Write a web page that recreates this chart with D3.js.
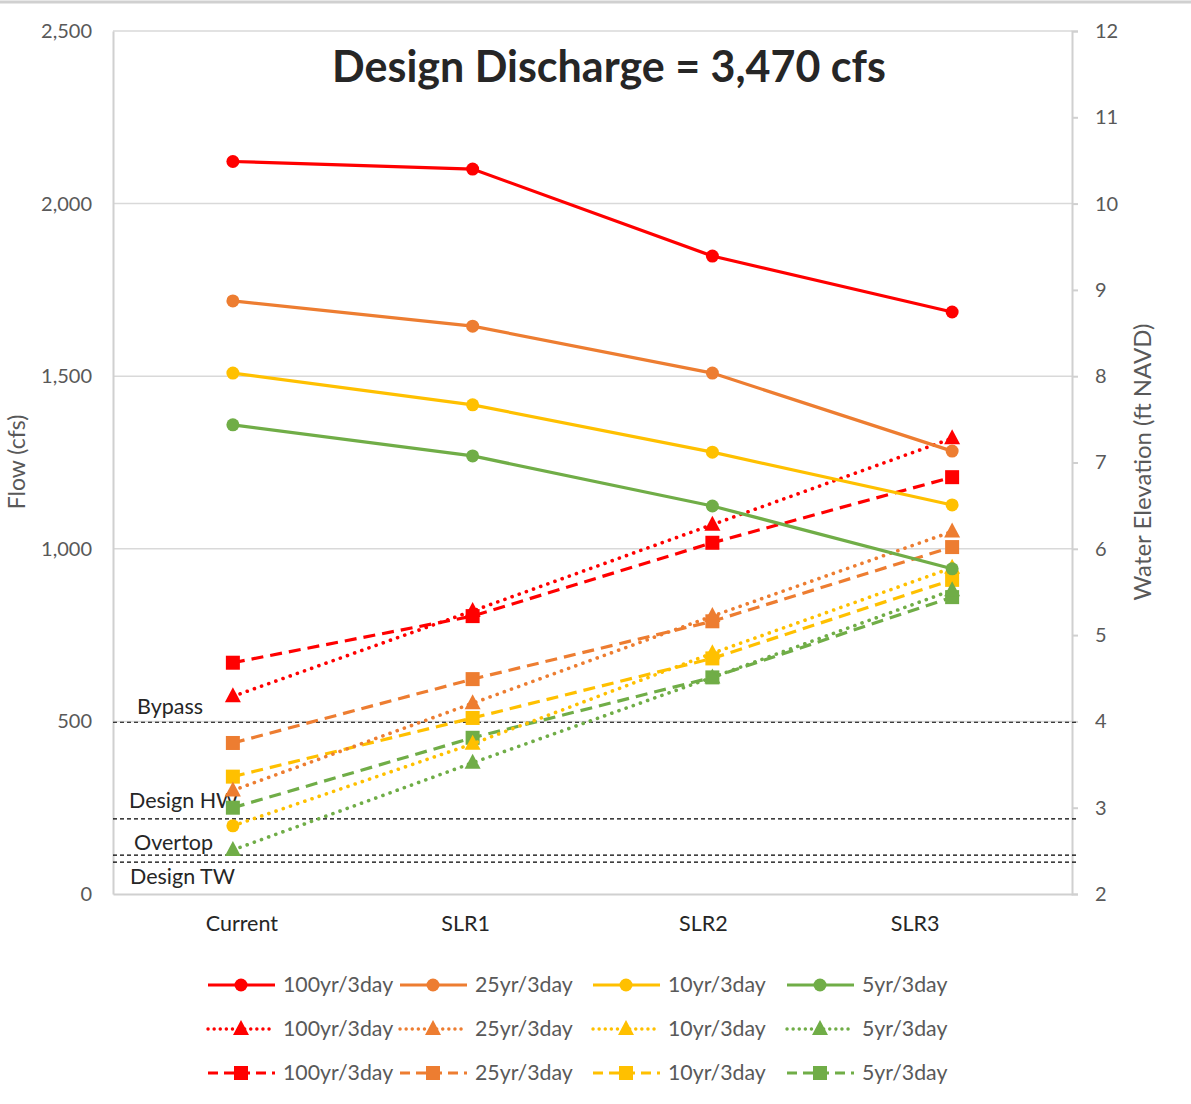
<!DOCTYPE html>
<html><head><meta charset="utf-8">
<script src="https://cdn.jsdelivr.net/npm/d3@7"></script>
<style>
body{margin:0;background:#fff;}
text{font-family:Lato,"Open Sans",sans-serif;}
</style></head>
<body>
<svg id="chart" width="1191" height="1104"></svg>
<script>
const categories = ["Current","SLR1","SLR2","SLR3"];
const seriesNames = ["100yr/3day","25yr/3day","10yr/3day","5yr/3day"];
// Flow (cfs), left axis — solid lines with circles
const flow100 = [2122, 2100, 1848, 1686];
const flow25  = [1718, 1645, 1509, 1283];
const flow10  = [1509, 1417, 1280, 1127];
const flow5   = [1359, 1269, 1124, 942];
// Water elevation (ft NAVD), right axis — dotted lines with triangles
const tri100 = [4.29, 5.28, 6.28, 7.28];
const tri25  = [3.20, 4.21, 5.22, 6.20];
const tri10  = [2.79, 3.74, 4.79, 5.78];
const tri5   = [2.51, 3.52, 4.51, 5.52];
// Water elevation (ft NAVD), right axis — dashed lines with squares
const sq100 = [4.68, 5.22, 6.07, 6.83];
const sq25  = [3.75, 4.49, 5.16, 6.02];
const sq10  = [3.36, 4.04, 4.73, 5.64];
const sq5   = [3.00, 3.81, 4.51, 5.44];
// Reference levels (right axis)
const refNames = ["Bypass","Design HW","Overtop","Design TW"];
const refValues = [3.99, 2.87, 2.45, 2.37];
const leftTicks = [0,500,1000,1500,2000,2500];
const rightTicks = [2,3,4,5,6,7,8,9,10,11,12];
const colors = ["#FF0000","#ED7D31","#FFC000","#70AD47"];

const svg = d3.select("#chart");
const M = {l:113, r:1072, t:31, b:894};

svg.append("line").attr("x1",0).attr("x2",1191).attr("y1",2).attr("y2",2).attr("stroke","#d0d0d0").attr("stroke-width",3);

const x = d3.scaleBand().domain(categories).range([M.l, M.r]);
const yL = d3.scaleLinear().domain([0,2500]).range([M.b, M.t]);
const yR = d3.scaleLinear().domain([2,12]).range([M.b, M.t]);
const cx = c => x(c) + x.bandwidth()/2;

// gridlines
svg.append("g").selectAll("line").data(leftTicks.filter(d=>d>0)).join("line")
  .attr("x1",M.l).attr("x2",M.r).attr("y1",d=>yL(d)).attr("y2",d=>yL(d))
  .attr("stroke","#d9d9d9").attr("stroke-width",1.5);

// left axis
const gL = svg.append("g").attr("transform",`translate(${M.l},0)`)
  .call(d3.axisLeft(yL).tickValues(leftTicks).tickSize(0).tickPadding(21).tickFormat(d3.format(",")));
gL.select(".domain").attr("stroke","#d0d0d0").attr("stroke-width",2);
gL.selectAll("text").attr("fill","#595959").attr("font-size",20);

// right axis
const gR = svg.append("g").attr("transform",`translate(${M.r},0)`)
  .call(d3.axisRight(yR).tickValues(rightTicks).tickSize(6).tickPadding(17).tickFormat(d3.format("d")));
gR.select(".domain").attr("stroke","#d0d0d0").attr("stroke-width",2);
gR.selectAll(".tick line").attr("stroke","#d0d0d0").attr("stroke-width",2);
gR.selectAll("text").attr("fill","#595959").attr("font-size",20);

// bottom axis
const labelShift = [9,-7,-9,-37];
const gB = svg.append("g").attr("transform",`translate(0,${M.b})`)
  .call(d3.axisBottom(x).tickSize(0).tickPadding(22));
gB.select(".domain").attr("stroke","#d0d0d0").attr("stroke-width",2);
gB.selectAll("text").attr("fill","#262626").attr("font-size",21.5)
  .attr("dx",(d,i)=>labelShift[i]);

// reference lines
const refG = svg.append("g");
refG.selectAll("line").data(refValues).join("line")
  .attr("x1",M.l).attr("x2",M.r+6).attr("y1",d=>yR(d)).attr("y2",d=>yR(d))
  .attr("stroke","#000").attr("stroke-width",1.2).attr("stroke-dasharray","4,3");
const refLabelX = [137,129,134,130];
const refLabelDy = [-8,-11,-5,22];
refG.selectAll("text").data(refNames).join("text")
  .attr("x",(d,i)=>refLabelX[i]).attr("y",(d,i)=>yR(refValues[i])+refLabelDy[i])
  .attr("fill","#262626").attr("font-size",21.5).text(d=>d);

// series
const groups = [
  {data:[flow100,flow25,flow10,flow5], y:yL, dash:null, marker:"circle"},
  {data:[tri100,tri25,tri10,tri5], y:yR, dash:"0.1,7.5", marker:"triangle"},
  {data:[sq100,sq25,sq10,sq5], y:yR, dash:"12,7", marker:"square"}
];
// marker override: 10yr dotted series shows a circle at Current
const markerOverride = {"1-2-0":"circle"};

function drawMarker(g, type, px, py, color){
  if(type==="circle") g.append("circle").attr("cx",px).attr("cy",py).attr("r",6.5).attr("fill",color);
  else if(type==="square") g.append("rect").attr("x",px-7).attr("y",py-7).attr("width",14).attr("height",14).attr("fill",color);
  else g.append("path").attr("d",`M${px},${py-9}L${px+8},${py+6}L${px-8},${py+6}Z`).attr("fill",color);
}

const order = [2,1,0];
order.forEach(gi=>{
  const grp = groups[gi];
  grp.data.forEach((vals,si)=>{
    const g = svg.append("g");
    const line = d3.line().x((d,i)=>cx(categories[i])).y(d=>grp.y(d));
    const p = g.append("path").datum(vals).attr("d",line).attr("fill","none")
      .attr("stroke",colors[si]).attr("stroke-width",3.2);
    if(grp.dash){ p.attr("stroke-dasharray",grp.dash); if(gi===1) p.attr("stroke-linecap","round").attr("stroke-width",3.6); }
    vals.forEach((v,i)=>{
      const t = markerOverride[`${gi}-${si}-${i}`] || grp.marker;
      drawMarker(g, t, cx(categories[i]), grp.y(v), colors[si]);
    });
  });
});

// title
svg.append("text").attr("x",609).attr("y",82).attr("text-anchor","middle")
  .attr("font-size",43).attr("font-weight","bold").attr("fill","#262626").text("Design Discharge = 3,470 cfs");

// axis titles
svg.append("text").attr("transform","translate(25,462) rotate(-90)").attr("text-anchor","middle")
  .attr("font-size",23).attr("fill","#595959").text("Flow (cfs)");
svg.append("text").attr("transform","translate(1151,462) rotate(-90)").attr("text-anchor","middle")
  .attr("font-size",24).attr("fill","#595959").text("Water Elevation (ft NAVD)");

// legend
const legCols = [208,400,593,787];
const legRows = [985,1029,1073];
groups.forEach((grp,ri)=>{
  seriesNames.forEach((name,si)=>{
    const g = svg.append("g");
    const x0 = legCols[si], y0 = legRows[ri];
    const l = g.append("line").attr("x1",x0).attr("x2",x0+67).attr("y1",y0).attr("y2",y0)
      .attr("stroke",colors[si]).attr("stroke-width",3.2);
    if(grp.dash){ l.attr("stroke-dasharray", ri===1 ? "0.1,6" : "10,6"); if(ri===1) l.attr("stroke-linecap","round").attr("stroke-width",3.4); }
    drawMarker(g, grp.marker, x0+33, y0, colors[si]);
    g.append("text").attr("x",x0+75).attr("y",y0+7).attr("font-size",21.3).attr("fill","#595959").text(name);
  });
});
</script>
</body></html>
